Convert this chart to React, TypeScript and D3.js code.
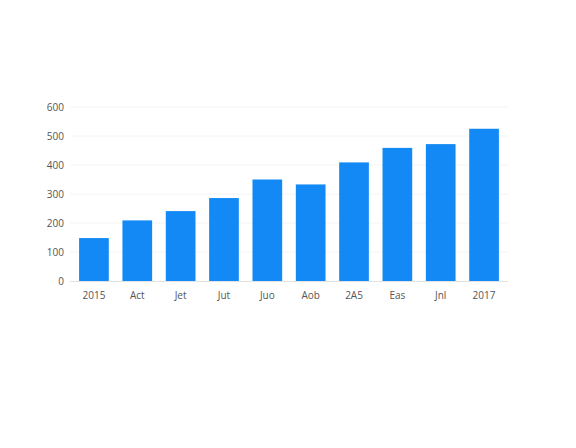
import React, { useEffect, useRef } from 'react';
import * as d3 from 'd3';

const categories = ['2015', 'Act', 'Jet', 'Jut', 'Juo', 'Aob', '2A5', 'Eas', 'Jnl', '2017'];
const values = [148, 209, 241, 286, 350, 333, 409, 459, 472, 525];
const yTicks = [0, 100, 200, 300, 400, 500, 600];

const App: React.FC = () => {
  const svgRef = useRef<SVGSVGElement>(null);

  useEffect(() => {
    if (!svgRef.current) return;

    const width = 576;
    const height = 448;
    const margin = { top: 107, right: 68, bottom: 167, left: 70 };

    const svg = d3.select(svgRef.current);
    svg.selectAll('*').remove();

    const x = d3
      .scaleBand<string>()
      .domain(categories)
      .range([margin.left, width - margin.right])
      .paddingInner(0.315)
      .paddingOuter(0.21);

    const y = d3
      .scaleLinear()
      .domain([0, 600])
      .range([height - margin.bottom, margin.top]);

    // gridlines
    svg
      .append('g')
      .selectAll('line')
      .data(yTicks.slice(1))
      .join('line')
      .attr('x1', margin.left)
      .attr('x2', width - margin.right)
      .attr('y1', d => y(d))
      .attr('y2', d => y(d))
      .attr('stroke', '#f4f4f4')
      .attr('stroke-width', 1);

    // baseline
    svg
      .append('line')
      .attr('x1', margin.left)
      .attr('x2', width - margin.right)
      .attr('y1', y(0) + 0.5)
      .attr('y2', y(0) + 0.5)
      .attr('stroke', '#e2e2e2');

    // bars
    svg
      .append('g')
      .selectAll('rect')
      .data(values)
      .join('rect')
      .attr('x', (_, i) => x(categories[i])!)
      .attr('y', d => y(d))
      .attr('width', x.bandwidth())
      .attr('height', d => y(0) - y(d))
      .attr('fill', '#1289f4');

    // y labels
    svg
      .append('g')
      .selectAll('text')
      .data(yTicks)
      .join('text')
      .attr('x', 64)
      .attr('y', d => y(d))
      .attr('dy', '0.35em')
      .attr('text-anchor', 'end')
      .style('font-size', '10px')
      .style('fill', '#555')
      .text(d => d);

    // x labels
    svg
      .append('g')
      .selectAll('text')
      .data(categories)
      .join('text')
      .attr('x', d => x(d)! + x.bandwidth() / 2)
      .attr('y', y(0) + 14)
      .attr('dy', '0.35em')
      .attr('text-anchor', 'middle')
      .style('font-size', '10px')
      .style('fill', '#555')
      .text(d => d);
  }, []);

  return (
    <svg
      ref={svgRef}
      width={576}
      height={448}
      style={{
        position: 'absolute',
        left: 0,
        top: 0,
        background: '#ffffff',
        fontFamily: '"Open Sans", "Noto Sans", sans-serif'
      }}
    />
  );
};

export default App;
